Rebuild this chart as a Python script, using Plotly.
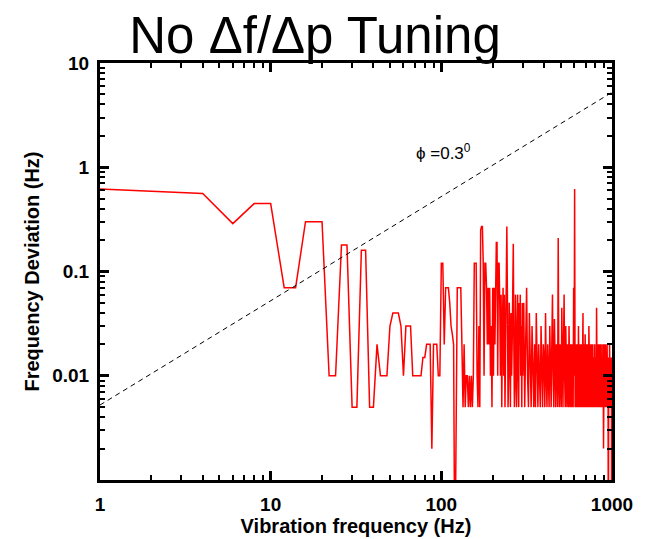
import math
import plotly.graph_objects as go

# ---- data ----
freq_low = [1, 4, 6, 8, 10, 12, 14, 16, 18, 20, 22, 24, 26, 28, 30, 32, 34, 36, 38, 40,
            42, 44, 46, 48, 50, 52, 54, 56, 58, 60, 62, 64, 66, 68, 70, 72, 74, 76, 78, 80,
            82, 84, 86, 88, 90, 92, 94, 96, 98]
dev_low = [0.62, 0.56, 0.288, 0.448, 0.448, 0.07, 0.07, 0.3, 0.3, 0.3, 0.01, 0.01, 0.18, 0.18, 0.005, 0.005, 0.16, 0.16, 0.005, 0.005,
           0.02, 0.01, 0.01, 0.01, 0.03, 0.04, 0.04, 0.04, 0.03, 0.01, 0.03, 0.03, 0.03, 0.01, 0.01, 0.01, 0.01, 0.01, 0.015, 0.015,
           0.02, 0.02, 0.02, 0.002, 0.02, 0.02, 0.02, 0.01, 0.01]

freq_mid = list(range(100, 300, 2))
dev_mid = [0.12, 0.12, 0.02, 0.07, 0.07, 0.07, 0.05, 0.03, 0.025, 0.02,
           0.0001, 0.002, 0.07, 0.07, 0.07, 0.07, 0.02, 0.005, 0.02, 0.005,
           0.01, 0.01, 0.005, 0.01, 0.005, 0.01, 0.005, 0.01, 0.12, 0.12,
           0.12, 0.01, 0.005, 0.03, 0.005, 0.25, 0.27, 0.27, 0.12, 0.01,
           0.12, 0.12, 0.07, 0.02, 0.07, 0.02, 0.07, 0.01, 0.03, 0.005,
           0.07, 0.01, 0.07, 0.02, 0.07, 0.19, 0.19, 0.01, 0.12, 0.12,
           0.05, 0.01, 0.06, 0.005, 0.03, 0.07, 0.01, 0.06, 0.005, 0.02,
           0.27, 0.27, 0.05, 0.005, 0.01, 0.05, 0.02, 0.005, 0.04, 0.01,
           0.02, 0.185, 0.185, 0.02, 0.005, 0.01, 0.06, 0.01, 0.005, 0.03,
           0.06, 0.01, 0.005, 0.05, 0.02, 0.06, 0.01, 0.03, 0.005, 0.05]

freq_high = list(range(300, 1001, 4))
dev_high = [0.01, 0.05, 0.005, 0.02, 0.07, 0.01, 0.005, 0.04, 0.015, 0.005,
            0.03, 0.01, 0.005, 0.02, 0.005, 0.04, 0.01, 0.005, 0.02, 0.01,
            0.005, 0.03, 0.01, 0.005, 0.02, 0.015, 0.005, 0.04, 0.01, 0.005,
            0.02, 0.01, 0.005, 0.03, 0.015, 0.005, 0.02, 0.06, 0.01, 0.005,
            0.035, 0.01, 0.005, 0.02, 0.015, 0.005, 0.21, 0.01, 0.005, 0.02,
            0.01, 0.005, 0.045, 0.015, 0.005, 0.02, 0.06, 0.01, 0.005, 0.03,
            0.015, 0.005, 0.02, 0.01, 0.005, 0.03, 0.015, 0.005, 0.02, 0.01,
            0.005, 0.02, 0.015, 0.005, 0.07, 0.01, 0.62, 0.005, 0.02, 0.01,
            0.005, 0.02, 0.015, 0.005, 0.03, 0.01, 0.005, 0.02, 0.015, 0.005,
            0.02, 0.01, 0.005, 0.015, 0.04, 0.005, 0.02, 0.01, 0.005, 0.025,
            0.01, 0.005, 0.02, 0.015, 0.005, 0.02, 0.01, 0.005, 0.03, 0.015,
            0.005, 0.02, 0.01, 0.005, 0.015, 0.02, 0.005, 0.01, 0.02, 0.005,
            0.015, 0.01, 0.005, 0.02, 0.005, 0.015, 0.01, 0.005, 0.045, 0.01,
            0.005, 0.02, 0.015, 0.005, 0.02, 0.01, 0.005, 0.015, 0.02, 0.005,
            0.01, 0.02, 0.005, 0.015, 0.01, 0.005, 0.02, 0.01, 0.002, 0.005,
            0.02, 0.01, 0.005, 0.015, 0.02, 0.005, 0.01, 0.015, 0.005, 0.02,
            0.01, 0.005, 0.015, 0.0001, 0.01, 0.015, 0.005, 0.02, 0.01, 0.005,
            0.015, 0.01, 0.005, 0.015, 0.0001,
            0.015]

phi_deg = 0.3
ref_freq = [1, 1000]
ref_dev = [f * math.tan(math.radians(phi_deg)) for f in ref_freq]

x_tickvals = [1, 10, 100, 1000]
x_ticktext = ["1", "10", "100", "1000"]
y_tickvals = [0.01, 0.1, 1, 10]
y_ticktext = ["0.01", "0.1", "1", "10"]
x_major_ticks = [1, 10, 100, 1000]
y_major_ticks = [0.001, 0.01, 0.1, 1, 10]
x_minor = [m * d for d in (1, 10, 100) for m in range(2, 10)]
y_minor = [m * d for d in (0.001, 0.01, 0.1, 1) for m in range(2, 10)]

freq = freq_low + freq_mid + freq_high
dev = dev_low + dev_mid + dev_high

fig = go.Figure()
fig.add_trace(go.Scatter(x=ref_freq, y=ref_dev, mode="lines", xaxis="x2", yaxis="y2",
                         line=dict(color="black", width=1, dash="5px,4px"),
                         showlegend=False, hoverinfo="skip"))
fig.add_trace(go.Scatter(x=freq, y=dev, mode="lines",
                         line=dict(color="#ff0000", width=1.5),
                         showlegend=False))

label_font = dict(family="Liberation Sans, Arial", size=19, color="black", weight="bold")

# main axes: line + labels
fig.update_layout(
    xaxis=dict(type="log", range=[0, 3], showgrid=False, zeroline=False, automargin=False,
               showline=True, linecolor="black", linewidth=3, mirror=True, ticks="",
               tickvals=x_tickvals, ticktext=x_ticktext, tickfont=label_font,
               ticklabelstandoff=5,
               title=dict(text="<b>Vibration frequency (Hz)</b>", standoff=4,
                          font=dict(family="Liberation Sans, Arial", size=20, color="black"))),
    yaxis=dict(type="log", range=[-3, 1], showgrid=False, zeroline=False, automargin=False,
               showline=True, linecolor="black", linewidth=3, mirror=True, ticks="",
               tickvals=y_tickvals, ticktext=y_ticktext, tickfont=label_font,
               ticklabelstandoff=4,
               title=dict(text="<b>Frequency Deviation (Hz)</b>", standoff=8,
                          font=dict(family="Liberation Sans, Arial", size=20, color="black"))),
    # overlay axes: tick marks only
    xaxis2=dict(type="log", range=[0, 3], overlaying="x", anchor="y2", side="bottom",
                showgrid=False, zeroline=False, automargin=False, showline=False,
                mirror="allticks", ticks="inside", ticklen=9, tickwidth=2.5, tickcolor="black",
                tickvals=x_major_ticks, showticklabels=False,
                minor=dict(tickvals=x_minor, ticks="inside", ticklen=5, tickwidth=2,
                           tickcolor="black", showgrid=False)),
    yaxis2=dict(type="log", range=[-3, 1], overlaying="y", anchor="x2", side="left",
                showgrid=False, zeroline=False, automargin=False, showline=False,
                mirror="allticks", ticks="inside", ticklen=9, tickwidth=2.5, tickcolor="black",
                tickvals=y_major_ticks, showticklabels=False,
                minor=dict(tickvals=y_minor, ticks="inside", ticklen=5, tickwidth=2,
                           tickcolor="black", showgrid=False)),
)

fig.add_annotation(x=2.015, y=0.144, xref="x", yref="y",
                   text="\u03d5 =0.3<sup>0</sup>", showarrow=False,
                   font=dict(family="Liberation Sans, Arial", size=17, color="black"))

fig.update_layout(
    width=648, height=531,
    margin=dict(l=92, r=44, t=55, b=59),
    paper_bgcolor="white", plot_bgcolor="white",
    title=dict(text="No \u0394f/\u0394p Tuning", xref="paper", x=0.42, xanchor="center",
               yref="container", y=0.948, yanchor="middle",
               font=dict(family="Liberation Sans, Arial", size=51, color="black")),
)

fig.write_html("out.html")
